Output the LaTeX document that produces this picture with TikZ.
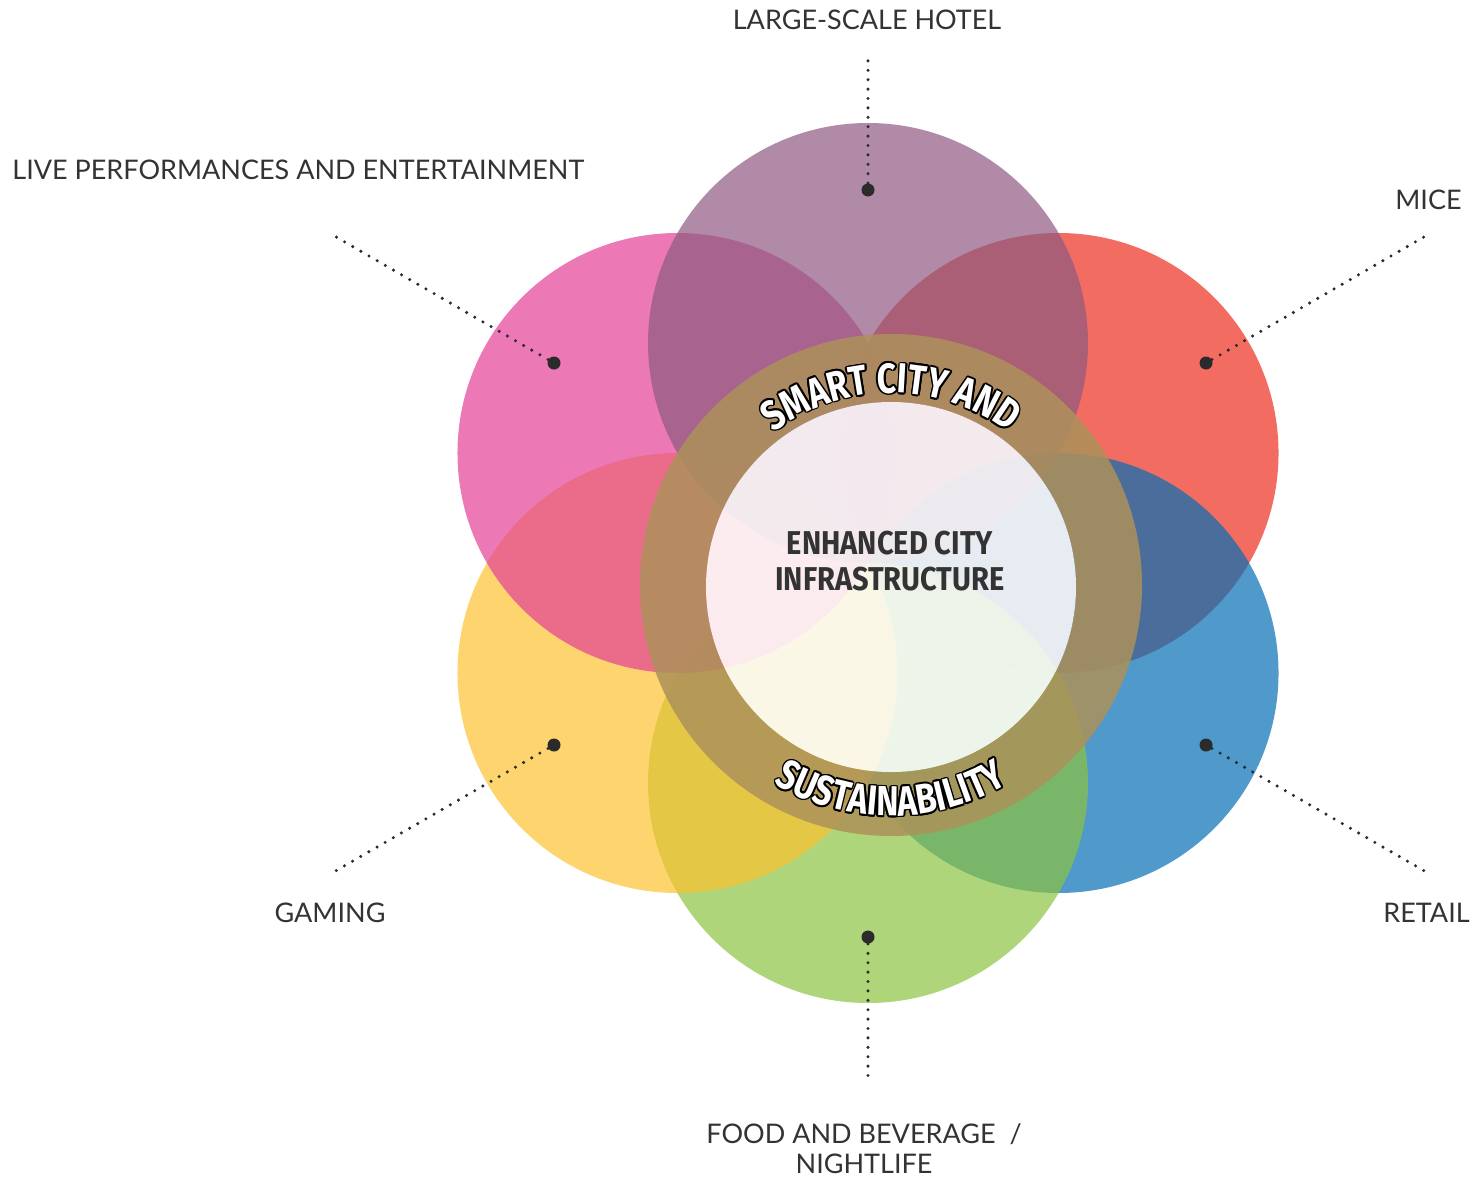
\documentclass[tikz,border=0pt]{standalone}
\usepackage{fontspec}
\setmainfont{Lato}
\newfontfamily\ringfont{Fira Sans}[FakeStretch=0.8]
\newfontfamily\corefont{Fira Sans}[FakeStretch=0.88]
\usetikzlibrary{positioning}
\usetikzlibrary{decorations.text}

\definecolor{petalyellow}{RGB}{252,194,49}
\definecolor{petalpink}{RGB}{228,64,149}
\definecolor{petalred}{RGB}{236,46,32}
\definecolor{petalblue}{RGB}{4,109,181}
\definecolor{petalgreen}{RGB}{139,195,65}
\definecolor{petalpurple}{RGB}{142,89,128}
\definecolor{ringbrown}{RGB}{173,146,90}
\definecolor{labelgray}{RGB}{51,51,51}
\definecolor{dotgray}{RGB}{43,43,43}

\newcommand\ringtype{\ringfont\bfseries\fontsize{21}{22}\selectfont}

\tikzset{
    petal/.style={fill opacity=0.7},
    marker/.style={circle, fill=dotgray, inner sep=0pt, minimum size=6.5pt},
    leader/.style={dotgray, line width=1.7pt, line cap=round, dash pattern=on 0pt off 4.7pt},
    tag/.style={text=labelgray, inner sep=0pt, font=\fontsize{13.5}{15}\selectfont},
}

\begin{document}
\begin{tikzpicture}[x=0.5pt, y=0.5pt]
    \useasboundingbox (0,0) rectangle (1477,-1178);
    \coordinate (flower) at (868,-563);
    \coordinate (ring) at (891,-585);
    \coordinate (core) at (891,-587);

    \foreach \ang/\col in {30/petalred, 330/petalblue, 270/petalgreen, 210/petalyellow, 150/petalpink, 90/petalpurple}{
    \fill[petal, \col] (flower) ++(\ang:220) circle[radius=220];
    }

    \fill[ringbrown, fill opacity=0.85, even odd rule] (ring) circle[radius=251] (core) circle[radius=185];
    \fill[white, fill opacity=0.87] (core) circle[radius=185];

    \foreach \a in {0,30,...,330}{
    \path[decorate, decoration={text along path, text color=black, text align=center, text={|\ringtype|SMART CITY AND}}]
        (core) ++(\a:1.7) ++(160:194) arc[start angle=160, end angle=20, radius=194];
    \path[decorate, decoration={text along path, text color=black, text align=center, text={|\ringtype|SUSTAINABILITY}}]
        (core) ++(\a:1.7) ++(200:229) arc[start angle=200, end angle=340, radius=229];
    }
    \path[decorate, decoration={text along path, text color=white, text align=center, text={|\ringtype|SMART CITY AND}}]
        (core) ++(160:194) arc[start angle=160, end angle=20, radius=194];
    \path[decorate, decoration={text along path, text color=white, text align=center, text={|\ringtype|SUSTAINABILITY}}]
        (core) ++(200:229) arc[start angle=200, end angle=340, radius=229];

    \node[align=center, text=labelgray, font=\corefont\bfseries\fontsize{16.5}{18}\selectfont] (title) at (890,-561) {ENHANCED CITY\\INFRASTRUCTURE};

    \node[tag, anchor=base] (hotel) at (867,-29) {LARGE-SCALE HOTEL};
    \node[tag, anchor=base west] (live) at (12,-179) {LIVE PERFORMANCES AND ENTERTAINMENT};
    \node[tag, anchor=base east] (mice) at (1462,-209) {MICE};
    \node[tag, anchor=base] (gaming) at (330,-922) {GAMING};
    \node[tag, anchor=base east] (retail) at (1470,-922) {RETAIL};
    \node[tag, anchor=north, align=center] (food) at (864,-1123) {FOOD AND BEVERAGE~~/\\NIGHTLIFE};

    \node[marker] (hoteldot) at (868,-190) {};
    \node[marker] (livedot) at (554,-363) {};
    \node[marker] (micedot) at (1206,-363) {};
    \node[marker] (gamingdot) at (554,-745) {};
    \node[marker] (retaildot) at (1206,-745) {};
    \node[marker] (fooddot) at (868,-937) {};
    \coordinate (hotelend) at (868,-52);
    \coordinate (liveend) at (331,-234);
    \coordinate (miceend) at (1429,-234);
    \coordinate (gamingend) at (332,-873);
    \coordinate (retailend) at (1428,-873);
    \coordinate (foodend) at (868,-1076);

    \draw[leader] (hoteldot) -- (hotelend);
    \draw[leader] (livedot) -- (liveend);
    \draw[leader] (micedot) -- (miceend);
    \draw[leader] (gamingdot) -- (gamingend);
    \draw[leader] (retaildot) -- (retailend);
    \draw[leader] (fooddot) -- (foodend);
\end{tikzpicture}
\end{document}
